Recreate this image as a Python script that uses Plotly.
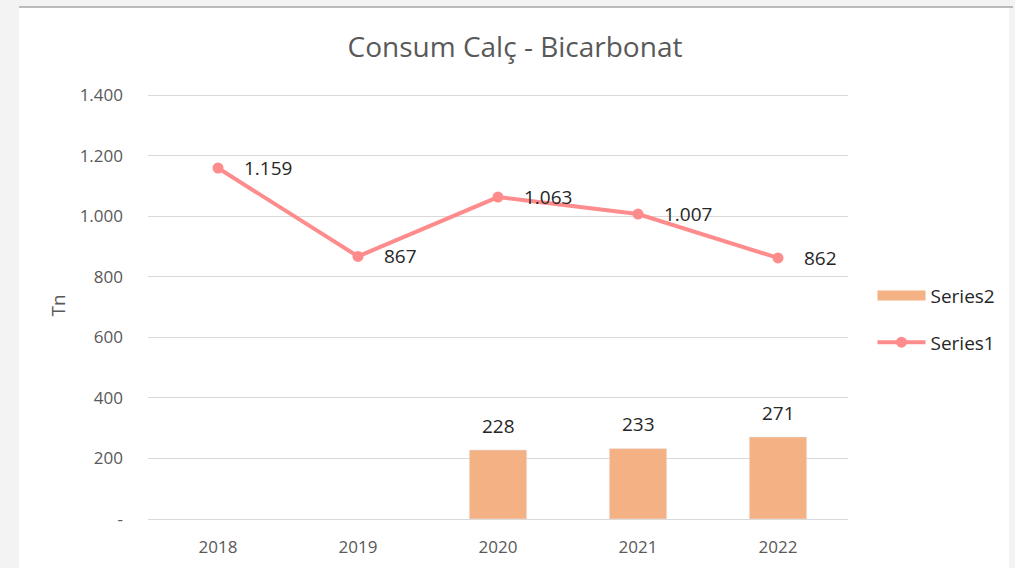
import plotly.graph_objects as go

years = [2018, 2019, 2020, 2021, 2022]
year_labels = ["2018", "2019", "2020", "2021", "2022"]
series1 = [1159, 867, 1063, 1007, 862]
series1_labels = ["1.159", "867", "1.063", "1.007", "862"]
bar_years = [2020, 2021, 2022]
series2 = [228, 233, 271]
series2_labels = ["228", "233", "271"]
ytick_vals = [0, 200, 400, 600, 800, 1000, 1200, 1400]
ytick_text = ["-", "200", "400", "600", "800", "1.000", "1.200", "1.400"]

FONT = "Open Sans, Liberation Sans, sans-serif"
LINE_COLOR = "#ff8c8c"
BAR_COLOR = "#f4b183"
LABEL_FONT = dict(size=19, color="#262626", family=FONT)

W, H = 1015, 568
M_L, M_R, M_T, M_B = 148, 167, 92, 49
PW, PH = W - M_L - M_R, H - M_T - M_B


def px_x(px):
    return (px - M_L) / PW


def px_y(py):
    return (H - M_B - py) / PH


fig = go.Figure()
fig.add_trace(go.Bar(
    x=bar_years, y=series2, name="Series2", marker_color=BAR_COLOR,
    width=0.41, showlegend=False,
))
# legend-only entry for the bars (wide rectangle symbol like the reference)
fig.add_trace(go.Scatter(
    x=[None], y=[None], name="Series2", mode="lines",
    line=dict(color=BAR_COLOR, width=15), legendgroup="s2", legendrank=1,
))
fig.add_trace(go.Scatter(
    x=years, y=series1, name="Series1", mode="lines+markers",
    line=dict(color=LINE_COLOR, width=4), marker=dict(size=11, color=LINE_COLOR),
    legendgroup="s1", legendrank=2,
))

for x, y, t in zip(years, series1, series1_labels):
    fig.add_annotation(x=x, y=y, text=t, showarrow=False, xanchor="left",
                       yanchor="middle", xshift=24, yshift=0, font=LABEL_FONT)
for x, y, t in zip(bar_years, series2, series2_labels):
    fig.add_annotation(x=x, y=y, text=t, showarrow=False, xanchor="center",
                       yanchor="middle", yshift=24, font=LABEL_FONT)

shapes = [
    dict(type="rect", xref="paper", yref="paper", x0=px_x(19), x1=px_x(1009),
         y0=px_y(600), y1=px_y(7), fillcolor="white", line=dict(width=0), layer="below"),
    dict(type="line", xref="paper", yref="paper", x0=px_x(19), x1=px_x(1013),
         y0=px_y(7), y1=px_y(7), line=dict(color="#a6a6a6", width=1.5)),
]

fig.update_layout(
    width=W, height=H,
    margin=dict(l=M_L, r=M_R, t=M_T, b=M_B, autoexpand=False),
    paper_bgcolor="#f3f3f3", plot_bgcolor="white",
    shapes=shapes,
    title=dict(text="Consum Calç - Bicarbonat", x=515 / W, xref="container",
               xanchor="center", y=1 - 47 / H, yref="container", yanchor="middle",
               font=dict(size=28, color="#595959", family=FONT)),
    xaxis=dict(type="linear", range=[2017.5, 2022.5], tickvals=years, ticktext=year_labels,
               showgrid=False, showline=False, ticks="", zeroline=False,
               ticklabelstandoff=16, automargin=False,
               tickfont=dict(size=17, color="#595959", family=FONT)),
    yaxis=dict(range=[0, 1410], tickvals=ytick_vals, ticktext=ytick_text,
               showgrid=True, gridcolor="#d9d9d9", gridwidth=1,
               zeroline=True, zerolinecolor="#d9d9d9", zerolinewidth=1,
               showline=False, ticks="", ticklabelstandoff=24, automargin=False,
               tickfont=dict(size=17, color="#595959", family=FONT),
               title=dict(text="Tn", standoff=8,
                          font=dict(size=19, color="#595959", family=FONT))),
    legend=dict(x=1.035, y=0.468, xanchor="left", yanchor="middle",
                font=dict(size=19, color="#262626", family=FONT), itemwidth=48,
                bgcolor="rgba(0,0,0,0)", traceorder="grouped", tracegroupgap=19),
    showlegend=True,
)

fig.write_html("out.html", config={"displayModeBar": False},
               post_script="document.body.style.margin='0';")
